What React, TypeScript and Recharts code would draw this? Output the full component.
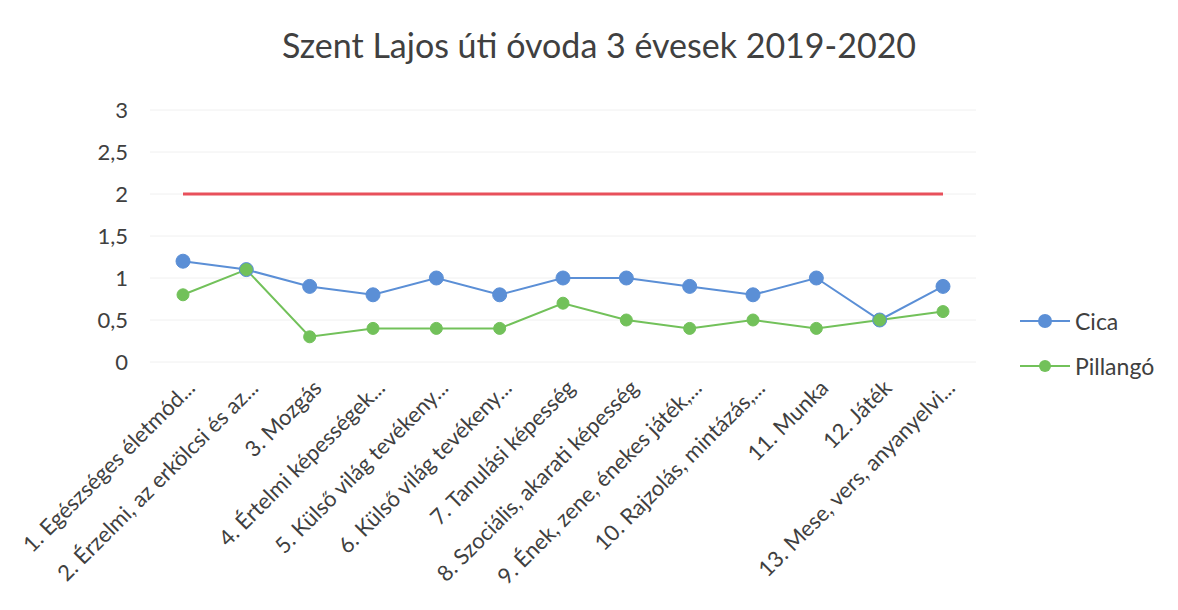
import { LineChart, Line, XAxis, YAxis, CartesianGrid } from "recharts";

const categories = [
  "1. Egészséges életmód...",
  "2. Érzelmi, az erkölcsi és az...",
  "3. Mozgás",
  "4. Értelmi képességek...",
  "5. Külső világ tevékeny...",
  "6. Külső világ tevékeny...",
  "7. Tanulási képesség",
  "8. Szociális, akarati képesség",
  "9. Ének, zene, énekes játék,...",
  "10. Rajzolás, mintázás,...",
  "11. Munka",
  "12. Játék",
  "13. Mese, vers, anyanyelvi...",
];

const cicaValues = [1.2, 1.1, 0.9, 0.8, 1.0, 0.8, 1.0, 1.0, 0.9, 0.8, 1.0, 0.5, 0.9];
const pillangoValues = [0.8, 1.1, 0.3, 0.4, 0.4, 0.4, 0.7, 0.5, 0.4, 0.5, 0.4, 0.5, 0.6];
const targetValues = [2, 2, 2, 2, 2, 2, 2, 2, 2, 2, 2, 2, 2];
const yTicks = [0, 0.5, 1, 1.5, 2, 2.5, 3];

const data = categories.map((name, i) => ({
  name,
  cica: cicaValues[i],
  pillango: pillangoValues[i],
  target: targetValues[i],
}));

const FONT = "Lato, 'Open Sans', sans-serif";

// rotated category labels, ending under each point
const CategoryTick = ({ x, y, payload }: any) => (
  <g transform={`translate(${x + 8},${y + 22})`}>
    <text
      textAnchor="end"
      transform="rotate(-45)"
      dy="0.35em"
      fill="#404040"
      fontSize={22}
      fontFamily={FONT}
    >
      {payload.value}
    </text>
  </g>
);

const legendItems = [
  { label: "Cica", color: "#5b8fd6", r: 7 },
  { label: "Pillangó", color: "#72c15a", r: 6 },
];

// legend kept outside the chart so it doesn't eat plot width
const LegendBox = () => (
  <div style={{ position: "absolute", left: 1020, top: 298, fontFamily: FONT }}>
    {legendItems.map((item) => (
      <div
        key={item.label}
        style={{ display: "flex", alignItems: "center", height: 45 }}
      >
        <svg width={52} height={20}>
          <line x1={0} y1={10} x2={50} y2={10} stroke={item.color} strokeWidth={2} />
          <circle cx={25} cy={10} r={item.r} fill={item.color} />
        </svg>
        <span style={{ fontSize: 23, color: "#404040", marginLeft: 3 }}>
          {item.label}
        </span>
      </div>
    ))}
  </div>
);

export default function App() {
  return (
    <div style={{ position: "relative", width: 1178, height: 610, margin: -8, background: "#fff" }}>
      <div
        style={{
          position: "absolute",
          top: 24,
          left: 0,
          width: 1198,
          textAlign: "center",
          fontFamily: FONT,
          fontSize: 34,
          color: "#404040",
        }}
      >
        Szent Lajos úti óvoda 3 évesek 2019-2020
      </div>
      <LineChart
        width={1178}
        height={610}
        data={data}
        margin={{ top: 110, right: 202, bottom: 0, left: 0 }}
      >
        <CartesianGrid vertical={false} stroke="#f0f0f0" />
        <XAxis
          dataKey="name"
          axisLine={false}
          tickLine={false}
          tickSize={0}
          tickMargin={0}
          interval={0}
          height={248}
          padding={{ left: 33, right: 33 }}
          tick={<CategoryTick />}
        />
        <YAxis
          domain={[0, 3]}
          ticks={yTicks}
          width={150}
          axisLine={false}
          tickLine={false}
          tickMargin={16}
          tickFormatter={(v: number) => String(v).replace(".", ",")}
          tick={{ fill: "#404040", fontSize: 22, fontFamily: FONT }}
        />
        <Line
          dataKey="target"
          stroke="#e8505b"
          strokeWidth={3}
          dot={false}
          legendType="none"
          isAnimationActive={false}
        />
        <Line
          dataKey="cica"
          stroke="#5b8fd6"
          strokeWidth={2}
          dot={{ r: 7, fill: "#5b8fd6", stroke: "#5b8fd6", strokeWidth: 1 }}
          isAnimationActive={false}
        />
        <Line
          dataKey="pillango"
          stroke="#72c15a"
          strokeWidth={2}
          dot={{ r: 6, fill: "#72c15a", stroke: "#72c15a", strokeWidth: 1 }}
          isAnimationActive={false}
        />
      </LineChart>
      <LegendBox />
    </div>
  );
}
